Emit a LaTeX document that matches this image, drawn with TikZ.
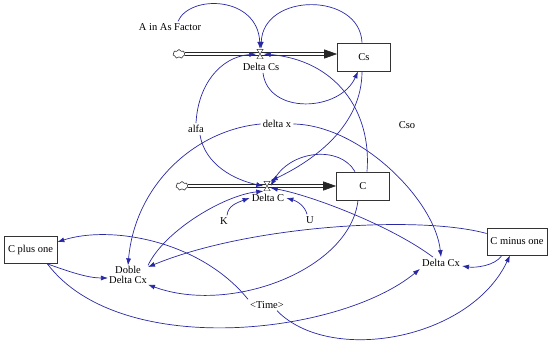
\documentclass[tikz,border=0pt]{standalone}
\usepackage{fontspec}
\setmainfont{Liberation Serif}
\usetikzlibrary{shapes.symbols, arrows.meta}
\definecolor{linkblue}{RGB}{40,40,165}
\tikzset{
  lbl/.style={font=\fontsize{10.5}{11.5}\selectfont, inner sep=2pt},
  stock/.style={lbl, draw=black!80, line width=0.7pt, minimum width=53pt, minimum height=28pt},
  cloudsrc/.style={cloud, cloud puffs=7, draw=black!80, fill=white, line width=0.6pt, minimum width=12pt, minimum height=9pt, inner sep=0pt},
  valve/.style={minimum width=7pt, minimum height=10pt, inner sep=0pt,
    path picture={\draw[black!80, line width=0.4pt, fill=white]
      ([shift={(0.3pt,-0.3pt)}]path picture bounding box.north west) -- ([shift={(-0.3pt,-0.3pt)}]path picture bounding box.north east) --
      ([shift={(0.3pt,0.3pt)}]path picture bounding box.south west) -- ([shift={(-0.3pt,0.3pt)}]path picture bounding box.south east) -- cycle;}},
  pipe/.style={draw=black!85, line width=0.7pt, double=white, double distance=2.2pt, -{Triangle[length=13pt,width=9pt]}},
  link/.style={draw=linkblue, line width=0.7pt, -{Latex[length=7pt,width=5pt]}}
}
\begin{document}
\begin{tikzpicture}[x=1pt,y=-1pt]
  \useasboundingbox (0,0) rectangle (550,346);
  % stocks and flows
  \node[cloudsrc] (srcCs) at (179,54) {};
  \node[stock] (Cs) at (364,57) {Cs};
  \node[cloudsrc] (srcC) at (182,186) {};
  \node[stock] (C) at (363,186) {C};
  \draw[pipe] (srcCs.east) -- (Cs.west |- srcCs.east);
  \draw[pipe] (srcC.east) -- (C.west |- srcC.east);
  \node[valve] (vCs) at (260,54) {};
  \node[lbl] (dCs) at (261,67) {Delta Cs};
  \node[valve] (vC) at (267,186) {};
  \node[lbl] (dC) at (268,198) {Delta C};
  % auxiliaries
  \node[lbl] (aif) at (170,27) {A in As Factor};
  \node[lbl] (alfa) at (196,129) {alfa};
  \node[lbl] (dx) at (277,124) {delta x};
  \node[lbl] (Cso) at (407,125) {Cso};
  \node[lbl] (K) at (224,221) {K};
  \node[lbl] (U) at (310,220) {U};
  \node[stock, minimum height=27pt] (Cplus) at (30.5,250) {C plus one};
  \node[lbl, align=center, inner sep=1pt] (dbl) at (128,275) {Doble\\[-2pt]Delta Cx};
  \node[lbl] (time) at (267,305) {\textless Time\textgreater};
  \node[lbl] (dCx) at (441,263) {Delta Cx};
  \node[stock, minimum width=60pt, minimum height=27pt, inner sep=1pt] (Cminus) at (517,241.5) {C minus one};
  % links
  \draw[link] ([xshift=8pt]aif.north) .. controls (190,-6) and (258,-4) .. (vCs.north);
  \draw[link] ([xshift=-2pt]Cs.north) .. controls (360,-8) and (263,-8) .. ([xshift=1pt]vCs.north);
  \draw[link] ([xshift=2pt]dCs.south) .. controls (268,115) and (340,112) .. ([xshift=-6pt]Cs.south);
  \draw[link] (alfa.north) .. controls (198,85) and (220,57) .. (vCs.west);
  \draw[link] ([xshift=4pt]alfa.south) .. controls (205,165) and (235,180) .. (vC.west);
  \draw[link] ([xshift=4pt]C.north) .. controls (372,110) and (335,60) .. (vCs.east);
  \draw[link] ([xshift=-2pt]Cs.south) .. controls (362,125) and (315,160) .. (vC.north east);
  \draw[link] ([xshift=-8pt]C.north) .. controls (340,145) and (290,150) .. (vC.east);
  \draw[link] (dx.west) .. controls (195,130) and (135,185) .. (dbl.north);
  \draw[link] (dx.east) .. controls (360,125) and (435,200) .. (dCx.north);
  \draw[link] (dbl.north east) .. controls (165,230) and (225,195) .. (vC.south west);
  \draw[link] ([xshift=3pt]K.north) .. controls (228,206) and (236,203) .. (dC.west);
  \draw[link] ([xshift=-3pt]U.north) .. controls (305,206) and (297,201) .. (dC.east);
  \draw[link] ([xshift=-8pt]dCx.north) .. controls (390,225) and (310,195) .. ([yshift=-2pt]vC.east);
  \draw[link] ([xshift=-5pt]C.south) .. controls (350,270) and (230,315) .. (dbl.south east);
  \draw[link] ([yshift=8pt]Cminus.west) .. controls (420,215) and (250,225) .. ([yshift=8pt]dbl.east);
  \draw[link] (time.north west) .. controls (200,240) and (110,225) .. ([yshift=8pt]Cplus.east);
  \draw[link] ([xshift=-10pt]Cplus.south east) .. controls (70,272) and (88,278) .. ([yshift=-3pt]dbl.west);
  \draw[link] ([xshift=-10pt]Cplus.south east) .. controls (120,360) and (340,335) .. (dCx.south west);
  \draw[link] ([xshift=10pt]time.south) .. controls (330,365) and (470,340) .. ([xshift=-7pt]Cminus.south);
  \draw[link] ([xshift=-15pt]Cminus.south) .. controls (495,266) and (475,268) .. ([yshift=-3pt]dCx.east);
\end{tikzpicture}
\end{document}
